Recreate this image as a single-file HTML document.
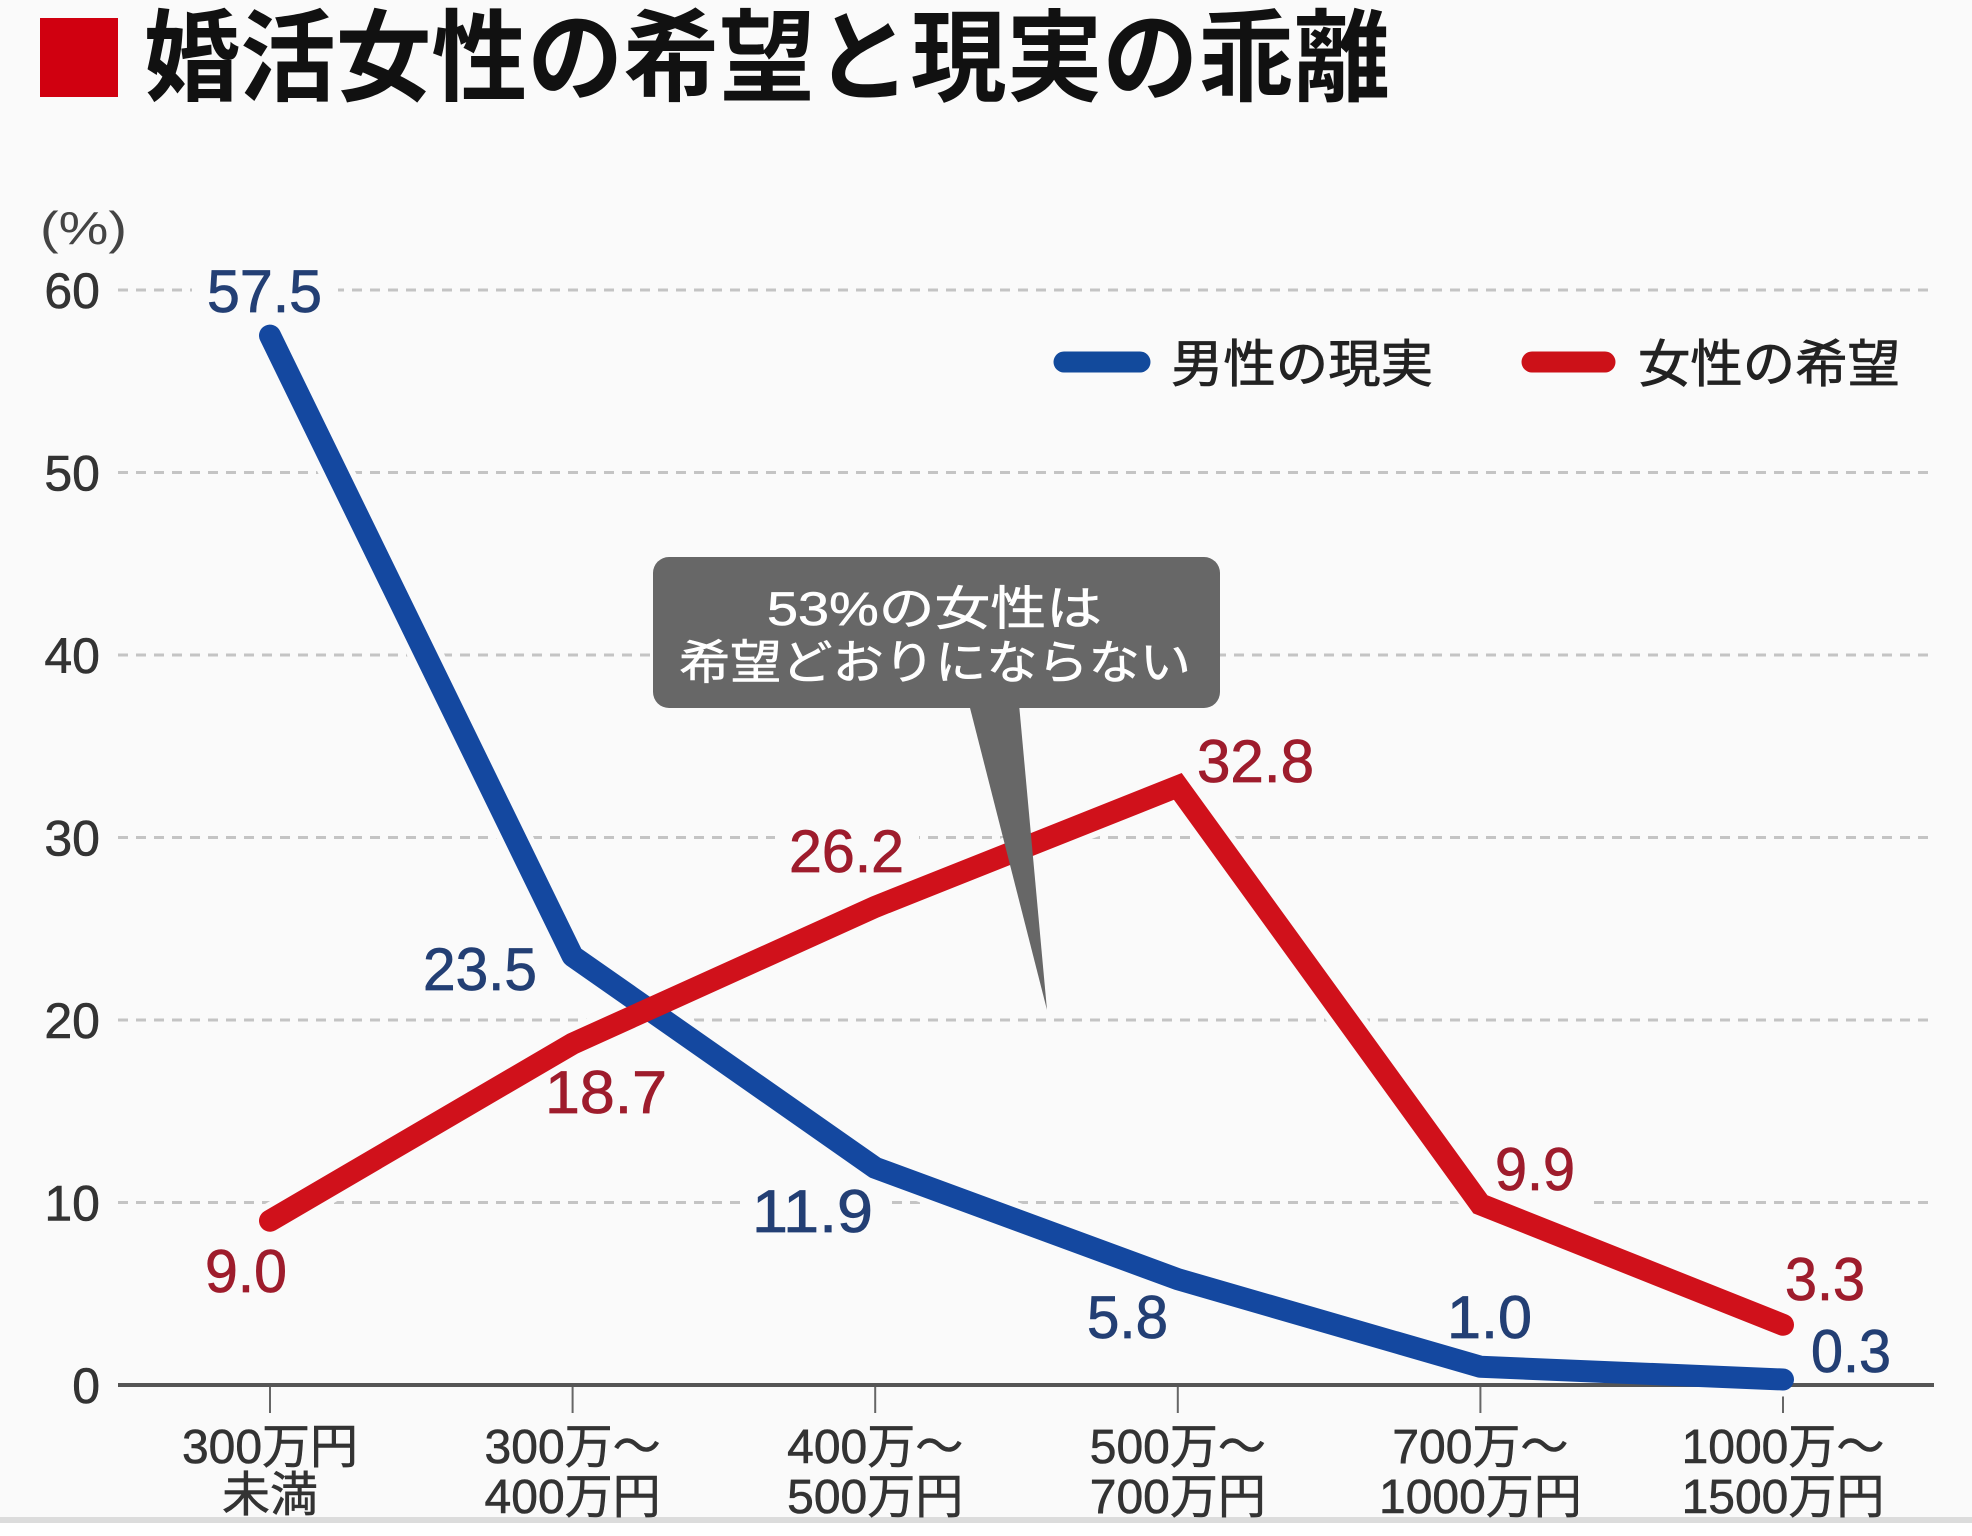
<!DOCTYPE html>
<html><head><meta charset="utf-8"><style>
html,body{margin:0;padding:0;background:#fafafa;}
svg{display:block;}
text{font-family:"Liberation Sans","Noto Sans CJK JP",sans-serif;}
</style></head><body>
<svg width="1972" height="1536" viewBox="0 0 1972 1536" xmlns="http://www.w3.org/2000/svg">
<rect x="0" y="0" width="1972" height="1536" fill="#fafafa"/>
<rect x="0" y="1517" width="1972" height="6" fill="#dcdcdc"/>
<rect x="0" y="1523" width="1972" height="13" fill="#ffffff"/>

<!-- title -->
<rect x="40" y="18" width="78" height="79" fill="#d00010"/>
<text x="144" y="93" font-size="100" font-weight="bold" fill="#111" textLength="1246" lengthAdjust="spacingAndGlyphs">婚活女性の希望と現実の乖離</text>

<!-- y axis labels -->
<text x="40" y="244" font-size="46" fill="#444" textLength="87" lengthAdjust="spacingAndGlyphs">(%)</text>
<g font-size="50" fill="#333" stroke="#333" stroke-width="0.6" text-anchor="end">
<text x="100" y="308">60</text>
<text x="100" y="490.5">50</text>
<text x="100" y="673">40</text>
<text x="100" y="855.5">30</text>
<text x="100" y="1038">20</text>
<text x="100" y="1220.5">10</text>
<text x="100" y="1403">0</text>
</g>

<!-- gridlines -->
<g stroke="#c4c4c4" stroke-width="3" stroke-dasharray="10 8">
<line x1="118" y1="290" x2="1931" y2="290"/>
<line x1="118" y1="472.5" x2="1931" y2="472.5"/>
<line x1="118" y1="655" x2="1931" y2="655"/>
<line x1="118" y1="837.5" x2="1931" y2="837.5"/>
<line x1="118" y1="1020" x2="1931" y2="1020"/>
<line x1="118" y1="1202.5" x2="1931" y2="1202.5"/>
</g>

<!-- label backgrounds -->
<g fill="#fafafa">
<rect x="192" y="262" width="146" height="58"/>
<rect x="775" y="826" width="144" height="56"/>
<rect x="745" y="1182" width="144" height="58"/>
<rect x="1480" y="1146" width="110" height="60"/>
</g>

<!-- axis -->
<line x1="118" y1="1385" x2="1934" y2="1385" stroke="#555" stroke-width="4"/>
<g stroke="#666" stroke-width="2">
<line x1="270" y1="1385" x2="270" y2="1413"/>
<line x1="572.6" y1="1385" x2="572.6" y2="1413"/>
<line x1="875.2" y1="1385" x2="875.2" y2="1413"/>
<line x1="1177.8" y1="1385" x2="1177.8" y2="1413"/>
<line x1="1480.4" y1="1385" x2="1480.4" y2="1413"/>
<line x1="1783" y1="1385" x2="1783" y2="1413"/>
</g>

<!-- halos -->
<g fill="none" stroke="#fafafa" stroke-width="34" stroke-linecap="round" stroke-linejoin="round">
<polyline points="270,335.6 572.6,956.1 875.2,1167.8 1177.8,1279.2 1480.4,1366.75 1783,1379.5"/>
<polyline points="270,1220.75 572.6,1043.7 875.2,906.85 1177.8,786.4 1480.4,1204.3 1783,1324.8"/>
</g>
<line x1="118" y1="1385" x2="1934" y2="1385" stroke="#555" stroke-width="4"/>

<!-- series -->
<polyline fill="none" stroke="#1448a0" stroke-width="22" stroke-linecap="round" stroke-linejoin="round" points="270,335.6 572.6,956.1 875.2,1167.8 1177.8,1279.2 1480.4,1366.75 1783,1379.5"/>
<polyline fill="none" stroke="#d0111b" stroke-width="22" stroke-linecap="round" stroke-linejoin="miter" points="270,1220.75 572.6,1043.7 875.2,906.85 1177.8,786.4 1480.4,1204.3 1783,1324.8"/>

<!-- callout -->
<rect x="653" y="557" width="567" height="151" rx="16" ry="16" fill="#676767"/>
<polygon points="969,704 1019,704 1047,1010" fill="#676767"/>
<g font-size="47" fill="#fff" stroke="#fff" stroke-width="0.6">
<text x="767" y="625" textLength="335" lengthAdjust="spacingAndGlyphs">53%の女性は</text>
<text x="679" y="679" textLength="512" lengthAdjust="spacingAndGlyphs">希望どおりにならない</text>
</g>

<!-- legend -->
<line x1="1064" y1="362" x2="1140" y2="362" stroke="#124a9c" stroke-width="21" stroke-linecap="round"/>
<line x1="1532" y1="362" x2="1605" y2="362" stroke="#cc1118" stroke-width="21" stroke-linecap="round"/>
<g font-size="51" fill="#222" stroke="#222" stroke-width="0.8">
<text x="1171" y="382" textLength="262" lengthAdjust="spacingAndGlyphs">男性の現実</text>
<text x="1638" y="382" textLength="262" lengthAdjust="spacingAndGlyphs">女性の希望</text>
</g>

<!-- data labels blue -->
<g font-size="60" fill="#233f74" stroke="#233f74" stroke-width="0.8">
<text x="207" y="312" textLength="115" lengthAdjust="spacingAndGlyphs">57.5</text>
<text x="423" y="990" textLength="114" lengthAdjust="spacingAndGlyphs">23.5</text>
<text x="752" y="1232" textLength="121" lengthAdjust="spacingAndGlyphs">11.9</text>
<text x="1087" y="1338" textLength="81" lengthAdjust="spacingAndGlyphs">5.8</text>
<text x="1447" y="1338" textLength="85" lengthAdjust="spacingAndGlyphs">1.0</text>
<text x="1811" y="1372" textLength="80" lengthAdjust="spacingAndGlyphs">0.3</text>
</g>
<!-- data labels red -->
<g font-size="60" fill="#9e1c2c" stroke="#9e1c2c" stroke-width="0.8">
<text x="205" y="1292" textLength="82" lengthAdjust="spacingAndGlyphs">9.0</text>
<text x="545" y="1113" textLength="122" lengthAdjust="spacingAndGlyphs">18.7</text>
<text x="789" y="872" textLength="115" lengthAdjust="spacingAndGlyphs">26.2</text>
<text x="1197" y="782" textLength="117" lengthAdjust="spacingAndGlyphs">32.8</text>
<text x="1495" y="1190" textLength="80" lengthAdjust="spacingAndGlyphs">9.9</text>
<text x="1785" y="1300" textLength="80" lengthAdjust="spacingAndGlyphs">3.3</text>
</g>

<!-- category labels -->
<g font-size="48" fill="#333" stroke="#333" stroke-width="0.6" text-anchor="middle">
<text x="270" y="1463">300万円</text>
<text x="270" y="1511">未満</text>
<text x="572.6" y="1463">300万〜</text>
<text x="572.6" y="1513">400万円</text>
<text x="875.2" y="1463">400万〜</text>
<text x="875.2" y="1513">500万円</text>
<text x="1177.8" y="1463">500万〜</text>
<text x="1177.8" y="1513">700万円</text>
<text x="1480.4" y="1463">700万〜</text>
<text x="1480.4" y="1513">1000万円</text>
<text x="1783" y="1463">1000万〜</text>
<text x="1783" y="1513">1500万円</text>
</g>
</svg>
</body></html>
